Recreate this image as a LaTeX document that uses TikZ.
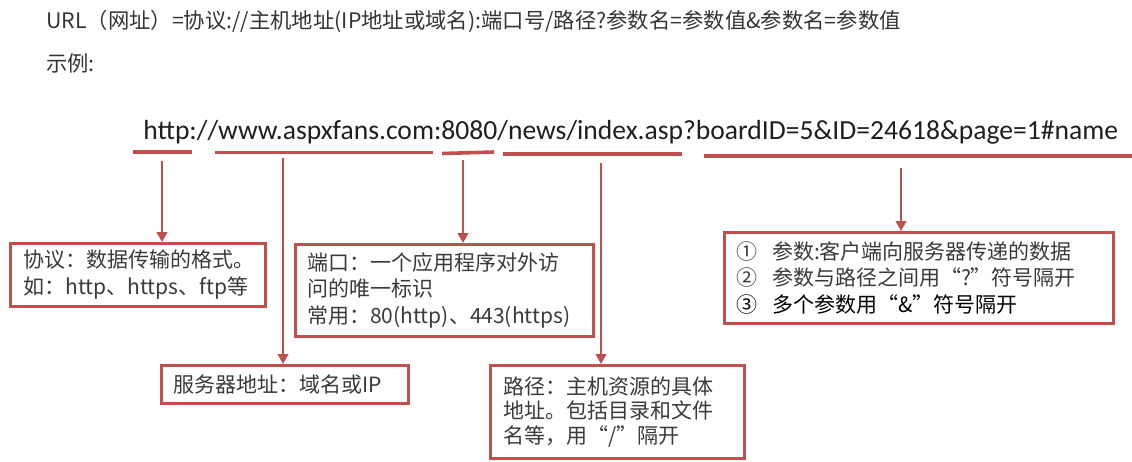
\documentclass[tikz,border=0pt]{standalone}
\usepackage{fontspec}
\setmainfont{Noto Sans CJK SC}
\newfontfamily\urlfont{Carlito}
\usepackage{xcolor}
\usepackage{tikz}
\usetikzlibrary{arrows.meta}
\definecolor{accent}{HTML}{C0504D}
\definecolor{ink}{HTML}{3A3A3A}
\newcommand\pxu{0.75pt}

\begin{document}
\begin{tikzpicture}[
  x=0.75pt, y=-0.75pt,
  head/.style={anchor=base west, inner sep=0pt, text=ink!90!black, font=\fontsize{16}{20}\selectfont},
  uline/.style={accent, line width=2.7pt},
  arrow/.style={accent, line width=1.5pt, -{Triangle[length=7.5pt, width=8pt]}},
  note/.style={draw=accent, line width=2pt, fill=white, anchor=north west, align=left, text=ink, inner ysep=0pt, font=\fontsize{15.75}{20}\selectfont}
]
\useasboundingbox (0,0) rectangle (1132,461);

\node[head] (line) at (46,28) {URL（网址）=协议://主机地址(IP地址或域名):端口号/路径?参数名=参数值\&参数名=参数值};
\node[head] (sample) at (46,71) {示例:};

\node[anchor=base west, inner sep=0pt, text=black!88, font=\urlfont\fontsize{20.7}{24}\selectfont] (url) at (143,139.3) {http://www.aspxfans.com:8080/news/index.asp?boardID=5\&ID=24618\&page=1\#name};

\coordinate (protoL) at (133,152);
\coordinate (protoR) at (192,152);
\coordinate (hostL) at (215,152.5);
\coordinate (hostR) at (433,152.5);
\coordinate (portL) at (442,153.5);
\coordinate (portR) at (494,152);
\coordinate (pathL) at (503,154);
\coordinate (pathR) at (682,154);
\coordinate (parL) at (704,156);
\coordinate (parR) at (1132,156);
\draw[uline] (protoL) -- (protoR);
\draw[uline] (hostL) -- (hostR);
\draw[uline] (portL) -- (portR);
\draw[uline] (pathL) -- (pathR);
\draw[uline] (parL) -- (parR);

\node[note, inner xsep=13*\pxu, minimum width=255*\pxu, minimum height=63*\pxu, text width=229*\pxu] (proto) at (9,242)
  {协议：数据传输的格式。\\如：http、https、ftp等};
\node[note, inner xsep=12*\pxu, minimum width=298*\pxu, minimum height=92*\pxu, text width=274*\pxu] (port) at (294,243)
  {端口：一个应用程序对外访\\问的唯一标识\\常用：80(http)、443(https)};
\node[note, inner xsep=12*\pxu, minimum width=247*\pxu, minimum height=38*\pxu, text width=223*\pxu] (host) at (160,364)
  {服务器地址：域名或IP};
\node[note, inner xsep=13*\pxu, minimum width=254*\pxu, minimum height=93*\pxu, text width=228*\pxu, font=\fontsize{15.75}{18.5}\selectfont] (path) at (489,364)
  {路径：主机资源的具体\\地址。包括目录和文件\\名等，用“/”隔开};
\node[note, inner xsep=12*\pxu, minimum width=389*\pxu, minimum height=91*\pxu, text width=365*\pxu] (param) at (723,231)
  {①\hspace{0.7em}参数:客户端向服务器传递的数据\\②\hspace{0.7em}参数与路径之间用“?”符号隔开\\{\color{black}③\hspace{0.7em}多个参数用“\&”符号隔开}};

\coordinate (protoTop) at (162,161);
\coordinate (hostTop) at (283,158);
\coordinate (portTop) at (463,160);
\coordinate (pathTop) at (601,163);
\coordinate (parTop) at (901,168);
\draw[arrow] (protoTop) -- (protoTop |- proto.north);
\draw[arrow] (hostTop) -- (hostTop |- host.north);
\draw[arrow] (portTop) -- (portTop |- port.north);
\draw[arrow] (pathTop) -- (pathTop |- path.north);
\draw[arrow] (parTop) -- (parTop |- param.north);
\end{tikzpicture}
\end{document}
